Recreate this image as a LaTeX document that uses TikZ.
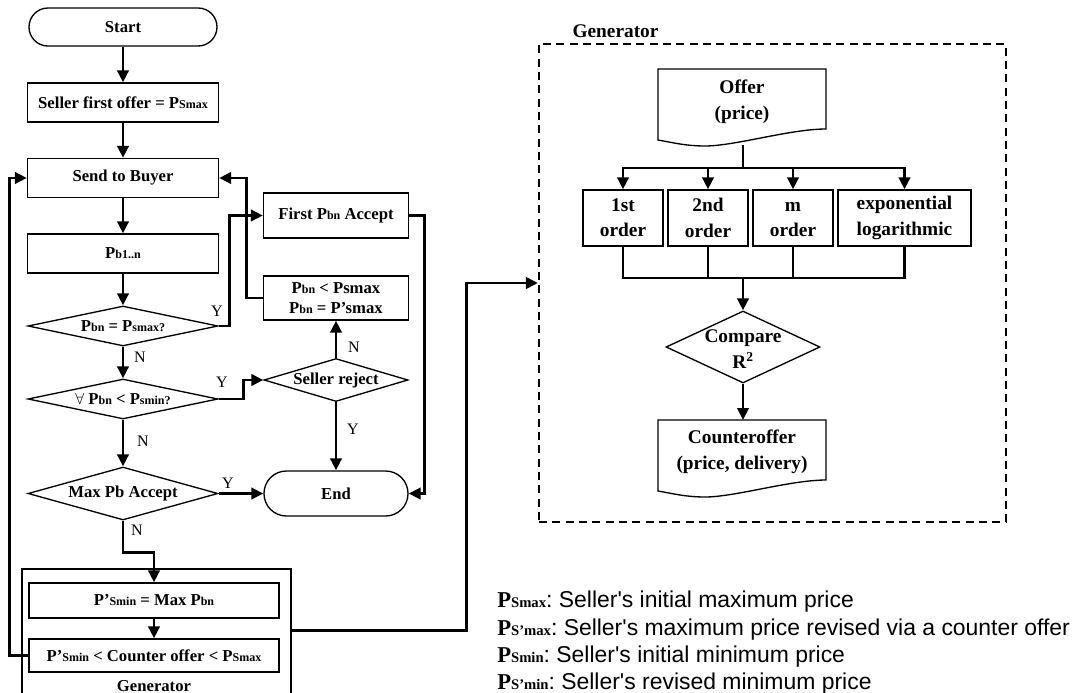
\documentclass[tikz,border=0pt]{standalone}
\usepackage{fontspec}
\setmainfont{Liberation Serif}
\newfontfamily\legfont{Liberation Sans}
\usetikzlibrary{arrows.meta,shapes.geometric,calc}
\newcommand\sbx[1]{{\fontsize{9pt}{9pt}\selectfont #1}}
\newcommand\lgP[1]{{\fontsize{17pt}{17pt}\selectfont\bfseries P}{\fontsize{11pt}{11pt}\selectfont\bfseries #1}}
\newcommand\lgt[1]{{\legfont\fontsize{17.2pt}{17.2pt}\selectfont #1}}
\begin{document}
\begin{tikzpicture}[x=0.75pt,y=-0.75pt,
 sz/.style 2 args={minimum width=#1*0.75pt, minimum height=#2*0.75pt},
 bx/.style={draw, line width=1pt, inner sep=0pt, align=center, font=\fontsize{12.5pt}{15pt}\selectfont\bfseries},
 rbx/.style={draw, line width=1pt, inner sep=0pt, align=center, font=\fontsize{14.5pt}{19pt}\selectfont\bfseries},
 dia/.style={diamond, draw, line width=1pt, inner sep=0pt},
 txt/.style={inner sep=0pt, align=center, font=\fontsize{12.5pt}{15pt}\selectfont\bfseries},
 rtxt/.style={inner sep=0pt, align=center, font=\fontsize{14.5pt}{19.5pt}\selectfont\bfseries},
 yn/.style={inner sep=0pt, font=\fontsize{12pt}{12pt}\selectfont},
 ln/.style={line width=2.2pt},
 arr/.style={line width=2.2pt, -{Triangle[length=9pt,width=8.5pt]}},
]
\useasboundingbox (0,0) rectangle (1086,693);

% ---------- left flow ----------
\node[bx, sz={188}{38}, rounded corners=14.2pt] (start) at (123,27) {Start};
\node[bx, sz={191}{39}] (first1) at (123,102.5) {Seller first offer = P\sbx{Smax}};
\node[bx, sz={191}{39}] (send) at (123,178) {Send to Buyer};
\node[bx, sz={191}{39}] (pb) at (123,253.5) {P\sbx{b1..n}};
\node[dia, sz={190}{40}] (d1) at (123,326) {};
\node[txt] (d1t) at (d1) {P\sbx{bn} = P\sbx{smax?}};
\node[dia, sz={190}{40}] (d2) at (123,399) {};
\node[txt] (d2t) at (d2) {$\forall$ P\sbx{bn} < P\sbx{smin?}};
\node[dia, sz={190}{53}] (d3) at (123,493.5) {};
\node[txt] (d3t) at (d3) {Max Pb Accept};
\node[bx, sz={144}{45}, rounded corners=16.8pt] (endn) at (336,493.5) {End};
\node[bx, sz={145}{45}] (acc) at (336,215.5) {First P\sbx{bn} Accept};
\node[bx, sz={145}{44}] (pc) at (336,298) {P\sbx{bn} < Psmax\\P\sbx{bn} = P’smax};
\node[dia, sz={144}{43}] (rej) at (336,380) {};
\node[txt] (rejt) at (rej) {Seller reject};

\node[draw, line width=0.8pt, sz={269}{130}] (gbox) at (156.5,634) {};
\node[bx, sz={250}{35}] (ps) at (154,600.5) {P’\sbx{Smin} = Max P\sbx{bn}};
\node[bx, sz={250}{33}] (ctr) at (154,655.5) {P’\sbx{Smin} < Counter offer < P\sbx{Smax}};
\node[txt] (glab) at (154,686) {Generator};

\draw[arr] (start) -- (first1);
\draw[arr] (first1) -- (send);
\draw[arr] (send) -- (pb);
\draw[arr] (pb) -- (d1);
\draw[arr] (d1.east) -- ++(11,0) |- (acc.west);
\node[yn] (y1) at (217,311) {Y};
\draw[arr] (pc.west) -- ++(-16,0) |- (send.east);
\draw[arr] (d1) -- (d2);
\node[yn] (n1) at (140,357) {N};
\draw[arr] (d2.east) -- ++(25,0) |- (rej.west);
\node[yn] (y2) at (222,382) {Y};
\draw[arr] (rej) -- (pc);
\node[yn] (n2) at (354,347) {N};
\draw[arr] (rej) -- (endn);
\node[yn] (y3) at (353,429) {Y};
\draw[arr] (acc.east) -- ++(15,0) |- (endn.east);
\draw[arr] (d2) -- (d3);
\node[yn] (n3) at (143,441) {N};
\draw[arr] (d3.east) -- (endn.west);
\node[yn] (y4) at (228,483) {Y};
\draw[arr] (d3.south) -- ++(0,32) -| (ps.north);
\node[yn] (n4) at (137,530) {N};
\draw[arr] (ps) -- (ctr);
\draw[arr] (ctr.west) -- ++(-19,0) |- (send.west);

% ---------- right generator ----------
\node[draw, line width=1.6pt, dash pattern=on 6pt off 4pt, inner sep=0pt, sz={467}{478}] (dash) at (772.5,283) {};
\node[rtxt] (glab2) at (615.5,31) {Generator};
\draw[arr] ($(gbox.north east)+(0,62)$) -- ++(175,0) |- (dash.west);

\draw[line width=1pt] (658,69) -- (826,69) -- (826,129) .. controls (790,129) and (735,146) .. (705,146) .. controls (685,146) and (670,142) .. (658,140) -- cycle;
\node[rtxt] (offer) at (742,102) {Offer\\(price)};
\coordinate (offb) at (743,145);
\coordinate (bus1) at (743,168);
\node[rbx, sz={80}{56}] (o1) at (623,218) {1st\\order};
\node[rbx, sz={80}{56}] (o2) at (708,218) {2nd\\order};
\node[rbx, sz={80}{56}] (o3) at (793,218) {m\vphantom{1}\\order};
\node[rbx, sz={133}{56}] (o4) at (904.5,218) {exponential\\logarithmic};
\coordinate (bus2) at (743,278);
\node[dia, sz={154}{72}] (cmp) at (743,347) {};
\node[rtxt] (cmpt) at (743,349) {Compare\\R\textsuperscript{2}};
\draw[line width=1pt] (658,420) -- (826,420) -- (826,480) .. controls (790,480) and (735,497) .. (705,497) .. controls (685,497) and (670,493) .. (658,491) -- cycle;
\node[rtxt] (cnt) at (742,452) {Counteroffer\\(price, delivery)};
\coordinate (ctop) at (743,420);

\draw[ln] (offb) -- (bus1);
\draw[ln, line cap=rect] (o1.north |- bus1) -- (o4.north |- bus1);
\foreach \o in {o1,o2,o3,o4} {
  \draw[arr] (\o.north |- bus1) -- (\o.north);
  \draw[ln] (\o.south) -- (\o.south |- bus2);
}
\draw[ln, line cap=rect] (o1.south |- bus2) -- (o4.south |- bus2);
\draw[arr] (bus2) -- (cmp.north);
\draw[arr] (cmp.south) -- (ctop);

% ---------- legend ----------
\node[anchor=west, inner sep=0pt] (lg1) at (497,602) {\lgP{Smax}\lgt{:\ Seller\textquotesingle s initial maximum price}};
\node[anchor=west, inner sep=0pt] (lg2) at (497,630) {\lgP{S’max}\lgt{:\ Seller\textquotesingle s maximum price revised via a counter offer}};
\node[anchor=west, inner sep=0pt] (lg3) at (497,657) {\lgP{Smin}\lgt{:\ Seller\textquotesingle s initial minimum price}};
\node[anchor=west, inner sep=0pt] (lg4) at (497,684) {\lgP{S’min}\lgt{:\ Seller\textquotesingle s revised minimum price}};
\end{tikzpicture}
\end{document}
